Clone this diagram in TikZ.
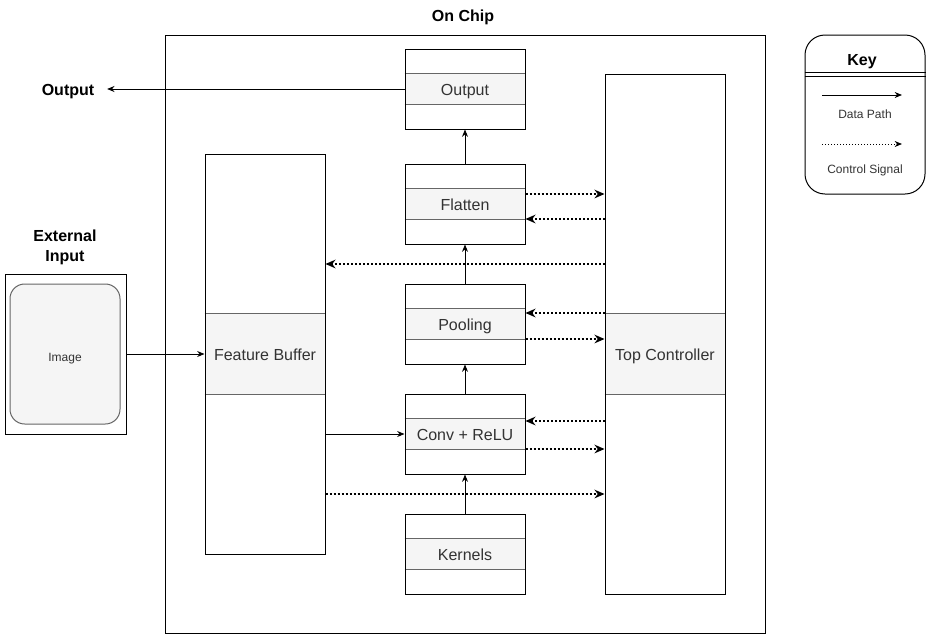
\documentclass[tikz,border=0pt]{standalone}
\usepackage{fontspec}
\setmainfont{Liberation Sans}
\usetikzlibrary{positioning, arrows.meta}
\definecolor{bandgray}{HTML}{F5F5F5}
\definecolor{bandline}{HTML}{666666}
\definecolor{labelgray}{HTML}{333333}

\begin{document}
\begin{tikzpicture}[
    x=0.75pt, y=-0.75pt, line width=0.75pt,
    every node/.style={font=\fontsize{12}{14.5}\selectfont},
    title/.style={font=\fontsize{12}{15}\selectfont\bfseries, align=center, text height=8.6pt, text depth=0pt},
    small/.style={font=\fontsize{9}{11}\selectfont, text=labelgray, text height=6.45pt, text depth=0pt},
    block/.style={draw, minimum width=90pt, minimum height=60pt, inner sep=0pt},
    band/.style={fill=bandgray, minimum width=90pt, minimum height=22.5pt, inner sep=0pt, text=labelgray,
        text height=9.2pt, text depth=0pt,
        append after command={(\tikzlastnode.north west) edge[draw=bandline] (\tikzlastnode.north east)
                              (\tikzlastnode.south west) edge[draw=bandline] (\tikzlastnode.south east)}},
    datapath/.style={-{Stealth[length=5.5pt, width=4.5pt]}},
    ctrl/.style={-{Stealth[length=7.5pt, width=6.5pt]}, line width=1.5pt, dash pattern=on 1.5pt off 1.5pt},
    keyctrl/.style={-{Stealth[length=5.5pt, width=4.5pt]}, dash pattern=on 0.75pt off 1.5pt}
]
\useasboundingbox (0,0) rectangle (933,643);

% On chip
\node[draw, minimum width=450pt, minimum height=448.5pt] (chip) at (465,334) {};
\node[title] (chiptitle) at (463,16) {On Chip};

% Layers
\node[band] (outband) at (465,89) {Output};
\node[block] (out) at (465,89) {};
\node[band] (flatband) at (465,204) {Flatten};
\node[block] (flatten) at (465,204) {};
\node[band] (poolband) at (465,324) {Pooling};
\node[block] (pool) at (465,324) {};
\node[band] (convband) at (465,434) {Conv + ReLU};
\node[block] (conv) at (465,434) {};
\node[band] (kernband) at (465,554) {Kernels};
\node[block] (kern) at (465,554) {};

\node[band, minimum height=60pt] (fbband) at (265,354) {Feature Buffer};
\node[block, minimum height=300pt] (fb) at (265,354) {};
\node[band, minimum height=60pt] (tcband) at (665,354) {Top Controller};
\node[block, minimum height=390pt] (tc) at (665,334) {};

% External input
\node[draw, minimum width=90.75pt, minimum height=120pt] (ext) at (65.5,354) {};
\node[draw=bandline, fill=bandgray, rounded corners=11pt, minimum width=82.5pt, minimum height=105pt, small, text height=10.95pt] (img) at (65,354) {Image};
\node[title, text height=, text depth=] (exttitle) at (65,247) {External\\Input};

\node[title] (outlabel) at (68,90) {Output};

% Key
\node[draw, rounded corners=15pt, minimum width=90pt, minimum height=119.25pt] (key) at (865,114.5) {};
\node[title] (keytitle) at (862,60) {Key};
\draw (key.west |- 0,72.5) -- (key.east |- 0,72.5);
\draw (key.west |- 0,76) -- (key.east |- 0,76);
\coordinate (dpstart) at (822,95);
\coordinate (dpend) at (902,95);
\draw[datapath] (dpstart) -- (dpend);
\node[small] (dplabel) at (865,114) {Data Path};
\coordinate (csstart) at (822,144);
\coordinate (csend) at (902,144);
\draw[keyctrl] (csstart) -- (csend);
\node[small] (cslabel) at (865,169) {Control Signal};

% Data path
\draw[datapath] (out.west) -- ([xshift=6pt]out.west -| outlabel.east);
\draw[datapath] (flatten.north) -- (out.south);
\draw[datapath] (pool.north) -- (flatten.south);
\draw[datapath] (conv.north) -- (pool.south);
\draw[datapath] (kern.north) -- (conv.south);
\draw[datapath] (ext.east) -- (fb.west);
\draw[datapath] (fb.east |- conv.west) -- (conv.west);

% Control signals
\draw[ctrl] (flatten.east |- 0,194) -- (tc.west |- 0,194);
\draw[ctrl] (tc.west |- 0,219) -- (flatten.east |- 0,219);
\draw[ctrl] (tc.west |- 0,264) -- (fb.east |- 0,264);
\draw[ctrl] (tc.west |- 0,313) -- (pool.east |- 0,313);
\draw[ctrl] (pool.east |- 0,339) -- (tc.west |- 0,339);
\draw[ctrl] (tc.west |- 0,421) -- (conv.east |- 0,421);
\draw[ctrl] (conv.east |- 0,449) -- (tc.west |- 0,449);
\draw[ctrl] (fb.east |- 0,494) -- (tc.west |- 0,494);

\end{tikzpicture}
\end{document}
